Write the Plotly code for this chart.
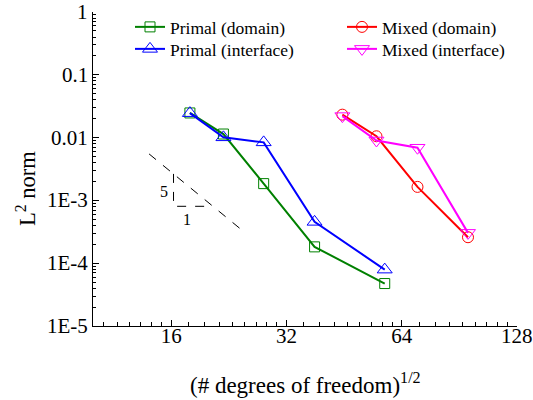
import numpy as np
import plotly.graph_objects as go

# ---- data ----
primal_x = [17.9, 21.9, 27.9, 37.9, 57.8]
primal_domain = [0.0247, 0.0114, 1.85e-3, 1.82e-4, 4.74e-5]
primal_interface = [0.0245, 0.0101, 8.4e-3, 4.55e-4, 7.9e-5]

mixed_x = [44.8, 55.0, 70.4, 95.4]
mixed_domain = [0.0232, 0.0105, 1.64e-3, 2.59e-4]
mixed_interface = [0.022, 9.0e-3, 6.9e-3, 3.04e-4]

# slope-5 guide triangle
slope_line_x = [14.0, 24.6]
slope_line_y = [5.5e-3, 3.28e-4]
slope_tri_x = [16.22, 16.22, 20.57]
slope_tri_y = [2.64e-3, 8.05e-4, 8.05e-4]
slope_label_5 = (15.35, 1.40e-3)
slope_label_1 = (17.6, 4.9e-4)

x_ticks = [16, 32, 64, 128]
x_ticktext = ["16", "32", "64", "128"]
y_ticks = [1e-5, 1e-4, 1e-3, 1e-2, 1e-1, 1]
y_ticktext = ["1E-5", "1E-4", "1E-3", "0.01", "0.1", "1"]

x_range = [10, 128]
y_range = [1e-5, 1]

# minor ticks (Origin-style: 8 linear subdivisions per octave / 2..9 per decade)
x_minor = []
for a in [8, 16, 32, 64]:
    for k in range(1, 9):
        v = a + k * a / 9
        if x_range[0] < v < x_range[1]:
            x_minor.append(v)
y_minor = []
for e in range(-5, 0):
    for m in range(2, 10):
        y_minor.append(m * 10.0 ** e)

FONT = "Liberation Serif, Times New Roman, serif"
W, H = 533, 400
L, R, T, B = 93, 16, 12, 74
PW, PH = W - L - R, H - T - B
EPS = 0.0004

def px_x(p):
    return (p - L) / PW

def px_y(p):
    return 1 - (p - T) / PH

fig = go.Figure()

series = [
    (primal_x, primal_domain, "Primal (domain)", "#008000", "square-open", 10, "legend"),
    (primal_x, primal_interface, "Primal (interface)", "#0000FF", "triangle-up-open", 13, "legend3"),
    (mixed_x, mixed_domain, "Mixed (domain)", "#FF0000", "circle-open", 11, "legend2"),
    (mixed_x, mixed_interface, "Mixed (interface)", "#FF00FF", "triangle-down-open", 13, "legend4"),
]
for xs, ys, name, col, sym, sz, leg in series:
    fig.add_trace(go.Scatter(x=xs, y=ys, mode="lines+markers", name=name, legend=leg,
                             line=dict(color=col, width=2),
                             marker=dict(symbol=sym, size=sz, color=col,
                                         line=dict(width=1, color=col))))

# slope guide
fig.add_trace(go.Scatter(x=slope_line_x, y=slope_line_y, mode="lines", showlegend=False,
                         line=dict(color="black", width=1, dash="dash"), hoverinfo="skip"))
fig.add_trace(go.Scatter(x=slope_tri_x, y=slope_tri_y, mode="lines", showlegend=False,
                         line=dict(color="black", width=1, dash="dash"), hoverinfo="skip"))

fig.add_annotation(x=np.log10(slope_label_5[0]), y=np.log10(slope_label_5[1]), text="5",
                   showarrow=False, font=dict(family=FONT, size=16, color="black"))
fig.add_annotation(x=np.log10(slope_label_1[0]), y=np.log10(slope_label_1[1]), text="1",
                   showarrow=False, font=dict(family=FONT, size=16, color="black"))

# y tick labels placed on the y scale, right-aligned next to the axis
for v, t in zip(y_ticks, y_ticktext):
    fig.add_annotation(xref="paper", yref="y", x=px_x(90), y=np.log10(v), text=t,
                       showarrow=False, xanchor="right", yanchor="middle",
                       font=dict(family=FONT, size=21, color="black"))

# axis titles as annotations for exact placement
fig.add_annotation(xref="paper", yref="paper", x=0.5, y=px_y(383),
                   text="(# degrees of freedom)<sup>1/2</sup>", showarrow=False,
                   xanchor="center", yanchor="middle",
                   font=dict(family=FONT, size=23, color="black"))
fig.add_annotation(xref="paper", yref="paper", x=px_x(26), y=px_y(189),
                   text="L<sup>2</sup> norm", showarrow=False, textangle=-90,
                   xanchor="center", yanchor="middle",
                   font=dict(family=FONT, size=22.5, color="black"))

axis_common = dict(
    type="log", showgrid=False, zeroline=False, showline=True, linecolor="black",
    linewidth=1.3, ticks="inside", ticklen=6, tickwidth=1.2, tickcolor="black",
    mirror=False, automargin=False, ticklabeloverflow="allow",
    tickfont=dict(family=FONT, size=21, color="black"),
)

fig.update_xaxes(**axis_common,
                 range=[np.log10(x_range[0]) - EPS, np.log10(x_range[1]) + EPS],
                 tickmode="array", tickvals=x_ticks, ticktext=x_ticktext,
                 ticklabelstandoff=-9,
                 minor=dict(tickmode="array", tickvals=x_minor, ticks="inside",
                            ticklen=3.5, tickwidth=1, tickcolor="black"))
fig.update_yaxes(**axis_common,
                 range=[np.log10(y_range[0]) - EPS, np.log10(y_range[1]) + EPS],
                 tickmode="array", tickvals=y_ticks, showticklabels=False,
                 minor=dict(tickmode="array", tickvals=y_minor, ticks="inside",
                            ticklen=3, tickwidth=1, tickcolor="black"))

def leg(xp, yp):
    return dict(font=dict(family=FONT, size=17.5, color="black"), bgcolor="rgba(0,0,0,0)",
                borderwidth=0, orientation="v", xanchor="left", yanchor="top",
                itemwidth=30, x=px_x(xp), y=px_y(yp))

fig.update_layout(
    template="none",
    width=W, height=H,
    margin=dict(l=L, r=R, t=T, b=B, pad=0, autoexpand=False),
    paper_bgcolor="white", plot_bgcolor="white",
    font=dict(family=FONT, color="black"),
    legend=leg(130, 9),
    legend2=leg(342, 9),
    legend3=leg(130, 31),
    legend4=leg(342, 31),
    showlegend=True,
)

fig.write_html("out.html", config={"displayModeBar": False},
               post_script="document.body.style.margin='0px';document.body.style.padding='0px';")
